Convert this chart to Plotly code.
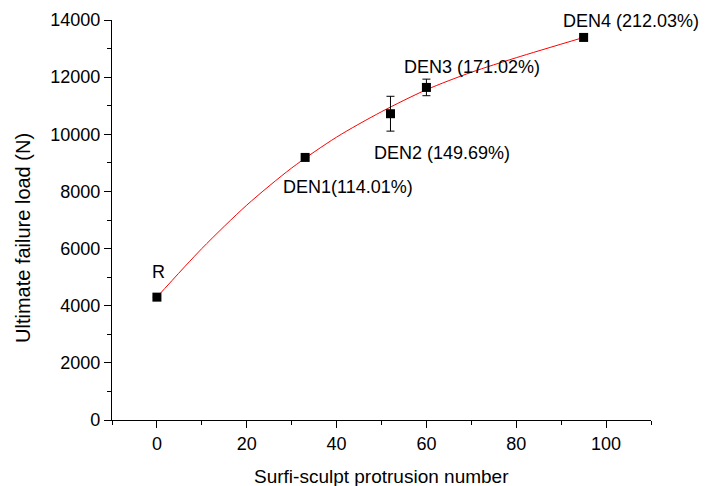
import plotly.graph_objects as go

# Data points
labels = ["R", "DEN1(114.01%)", "DEN2 (149.69%)", "DEN3 (171.02%)", "DEN4 (212.03%)"]
x_vals = [0, 33, 52, 60, 95]
y_vals = [4300, 9190, 10720, 11640, 13390]
y_err = [0, 0, 610, 290, 0]

# Fitted curve
fit_x = [0, 10, 20, 30, 40, 50, 60, 70, 80, 95]
fit_y = [4300, 6000, 7520, 8820, 9900, 10790, 11560, 12170, 12680, 13390]

# Label positions (data coords)
label_x = [0.3, 42.6, 63.5, 70.2, 105.6]
label_y = [5190, 8166, 9333, 12366, 13976]

# Axis ticks
x_ticks = [0, 20, 40, 60, 80, 100]
y_ticks = [0, 2000, 4000, 6000, 8000, 10000, 12000, 14000]
y_ticktext = [str(v) for v in y_ticks]

FONT = "Liberation Sans, Arial, sans-serif"

fig = go.Figure()
fig.add_trace(go.Scatter(
    x=fit_x, y=fit_y, mode="lines",
    line=dict(color="red", width=1, shape="spline", smoothing=0.8),
    showlegend=False, hoverinfo="skip"))
fig.add_trace(go.Scatter(
    x=x_vals, y=y_vals, mode="markers",
    marker=dict(symbol="square", size=9, color="black"),
    error_y=dict(type="data", array=y_err, visible=True,
                 color="black", thickness=1, width=4),
    showlegend=False))

for t, lx, ly in zip(labels, label_x, label_y):
    fig.add_annotation(x=lx, y=ly, text=t, showarrow=False,
                       font=dict(family=FONT, size=18, color="black"),
                       xanchor="center", yanchor="middle")

# Axis titles
fig.add_annotation(xref="paper", yref="paper", x=0.5, y=0, yshift=-56,
                   text="Surfi-sculpt protrusion number", showarrow=False,
                   font=dict(family=FONT, size=19, color="black"),
                   xanchor="center", yanchor="middle")
fig.add_annotation(xref="paper", yref="paper", x=0, y=0.455, xshift=-89,
                   text="Ultimate failure load (N)", showarrow=False, textangle=-90,
                   font=dict(family=FONT, size=20, color="black"),
                   xanchor="center", yanchor="middle")

axis_common = dict(
    showline=True, linecolor="black", linewidth=1.3,
    ticks="outside", ticklen=7, tickwidth=1.3, tickcolor="black",
    showgrid=False, zeroline=False, automargin=False,
    tickfont=dict(family=FONT, size=18, color="black"),
)

fig.update_xaxes(
    range=[-10, 110], tickvals=x_ticks,
    minor=dict(dtick=10, tick0=0, ticklen=4, tickwidth=1.3,
               tickcolor="black", ticks="outside", showgrid=False),
    **axis_common)
fig.update_yaxes(
    range=[0, 14000], tickvals=y_ticks, ticktext=y_ticktext,
    minor=dict(dtick=1000, tick0=0, ticklen=4, tickwidth=1.3,
               tickcolor="black", ticks="outside", showgrid=False),
    **axis_common)

fig.update_layout(
    width=708, height=486,
    margin=dict(l=112, r=57, t=20, b=66),
    plot_bgcolor="white", paper_bgcolor="white",
    font=dict(family=FONT, color="black"),
)

fig.write_html("out.html")
